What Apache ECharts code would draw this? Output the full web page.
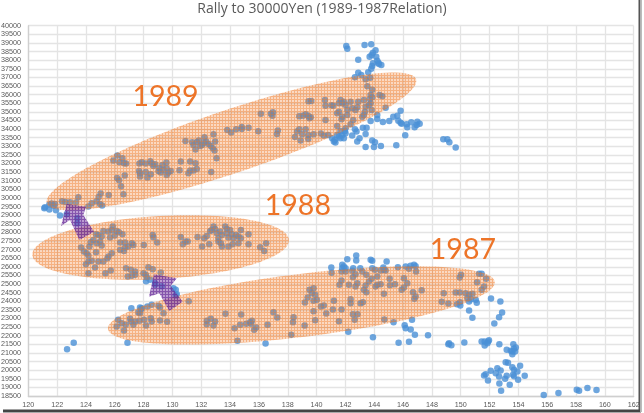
<!DOCTYPE html>
<html><head><meta charset="utf-8">
<style>html,body{margin:0;padding:0;background:#fff}#c{width:644px;height:413px;filter:blur(0.35px)}</style>
<script src="https://cdn.jsdelivr.net/npm/echarts@6/dist/echarts.min.js"></script>
</head><body><div id="c"></div>
<script>
const title = 'Rally to 30000Yen (1989-1987Relation)';
const pts1989Left = [[126.18,32457],[125.9,32167],[126.32,32071],[126.53,32300],[126.64,32012],[126.78,31993],[126.16,31162],[126.3,31026],[126.44,30678],[126.69,31297],[126.6,30214],[125.58,30175],[125.02,30253],[124.88,30059],[124.75,29808],[124.98,29653],[125.12,29556],[124.4,29692],[124.17,29500],[123.47,30040],[123.31,29730],[122.89,29750],[122.57,29770],[122.34,29808],[121.85,29653],[121.62,29672],[121.46,29615],[121.16,29460],[121.75,29550]];
const pts1989Mid = [[127.71,31993],[127.87,32071],[128.15,31993],[128.47,32129],[128.56,31993],[128.8,31955],[128.68,31858],[129.58,32051],[129.31,31916],[127.69,31568],[127.75,31433],[127.75,31240],[128.15,31510],[128.5,31374],[128.26,31181],[129.1,31723],[129.03,31568],[129.19,31471],[129.38,31626],[129.6,31723],[129.6,31336],[129.88,31568],[129.72,31471],[130.58,32109],[131.23,32109],[131.6,32012],[130.49,31607],[131.69,31684],[131.46,31587],[131.23,31587],[131.11,31433],[132.69,31510],[130.9,33309],[133.06,32300],[131.37,33231],[131.46,33077],[131.6,32806],[131.83,33328],[131.92,33018],[132.06,33077],[132.22,33521],[132.34,33270],[132.5,33134],[132.85,33695],[132.96,33270],[132.8,32883],[132.92,32748],[132.66,33018],[132.2,33200],[131.7,33250]];
const pts1989Right = [[133.8,33947],[134.07,33792],[134.42,33985],[134.81,34120],[134.81,34000],[135.28,34082],[135.95,33869],[136.13,34894],[136.83,34894],[136.97,34971],[136.94,34778],[137.31,33908],[137.25,33715],[138.5,33540],[138.64,33850],[138.8,33985],[139.0,33695],[138.89,33328],[139.24,33985],[139.42,33657],[139.42,33424],[139.79,33695],[140.3,33734],[138.8,34740],[139.06,34778],[139.24,34855],[139.44,34759],[139.6,34682],[139.44,35610],[139.63,35629],[139.5,34624]];
const pts1989Top = [[142.06,38820],[142.13,38666],[143.33,38878],[143.79,38917],[143.91,38433],[144.09,38569],[143.82,38298],[144.14,38201],[143.68,38201],[142.89,38027],[144.21,37969],[144.33,37776],[144.49,37718],[144.28,37850],[143.91,37815],[143.86,37660],[143.79,37505],[143.58,37292],[142.89,37273],[143.1,37138],[142.66,37002],[143.4,36886],[143.72,36983],[143.52,36480],[143.86,36287],[143.75,35977],[143.86,35842],[144.37,35977],[144.56,35900],[143.7,35750],[143.28,35687],[142.89,35590],[142.36,35590],[141.89,35590],[141.66,35687],[140.58,35687],[140.62,35358],[141.04,35377],[141.15,35358],[141.55,35494],[142.01,35397],[141.78,35494],[142.47,35204],[142.82,35262],[143.4,35300],[143.75,35494],[143.63,35397],[143.82,35107],[143.35,35010],[142.7,35107],[142.13,35107],[141.55,35010],[141.43,34914],[141.78,34720],[142.13,34817],[141.73,34566],[143.17,34720],[143.28,34817],[142.54,34527],[140.62,34527],[141.43,34179],[142.36,34276],[142.01,34043],[141.66,33889],[140.81,33657],[140.5,33618]];
const pts1989Lower = [[144.79,35242],[145.83,35068],[145.6,34778],[145.32,34720],[144.21,34817],[144.21,34585],[143.75,34469],[144.6,34411],[145.04,34469],[145.67,34488],[145.83,34372],[145.9,34300],[146.25,34276],[146.29,34101],[146.57,34392],[146.8,34101],[146.99,34430],[146.94,34230],[147.15,34314],[146.15,33637],[143.21,34082],[143.47,34082],[142.66,33985],[142.77,33850],[143.4,33715],[142.47,33618],[142.98,33463],[142.82,33270],[143.86,33328],[144.05,33231],[143.4,32960],[143.98,32960],[144.46,33018],[145.53,33057],[148.79,33405],[149.07,33405],[149.21,33231],[149.65,32922],[141.08,33463],[141.2,33270],[141.31,33212],[141.43,33657],[141.66,33463],[141.78,33657],[141.89,33463],[142.01,33753],[141.96,33889],[141.55,33560],[141.27,33366]];
const pts1988Left = [[121.11,29402],[121.46,29324],[121.92,29285],[122.2,28976],[122.66,29053],[123.4,28821],[123.4,28531],[125.86,28338],[126.13,28086],[126.29,28009],[126.53,27893],[125.21,28086],[125.56,28048],[125.79,28144],[124.7,27893],[124.86,27855],[125.09,27758],[125.67,27700],[126.0,27816],[124.33,27429],[124.51,27564],[124.75,27371],[124.98,27468],[125.09,27235],[124.24,27177],[123.66,27119],[123.86,26887],[124.05,26791],[124.17,26655],[124.7,26849],[125.56,26597],[125.79,26791],[125.49,26501],[124.0,26153],[124.17,26307],[124.4,26346],[124.86,26307],[125.21,26307],[124.63,25959],[124.17,25630],[125.35,25630],[125.72,25785],[126.37,27410],[126.71,27410],[127.18,27371],[127.29,27274],[126.94,27177],[126.71,27119],[126.37,26984],[126.64,26926],[128.01,27274],[128.63,27854],[128.68,27719],[128.94,27410]];
const pts1988Right = [[130.58,27738],[130.9,27468],[130.72,27313],[131.06,27468],[131.74,27738],[132.06,27177],[132.2,27661],[132.38,27796],[132.55,27313],[132.85,28338],[132.73,28144],[132.62,28086],[132.96,28203],[133.08,27951],[133.19,27661],[133.31,28048],[133.43,27855],[133.19,27468],[133.36,27371],[133.43,27177],[133.66,28338],[133.77,28203],[134,28144],[133.77,27951],[133.89,27700],[134.12,27893],[134.24,27661],[133.89,27177],[134.17,27313],[134.42,27855],[134.58,27758],[134.75,27661],[134.75,28144],[134.58,27371],[135.28,27893],[135.28,27313],[136.09,27139],[136.37,26926],[136.5,27371]];
const ptsMiddle = [[126.78,25921],[127.11,25824],[127.41,25727],[127.41,25534],[127.18,25475],[126.9,25437],[127.99,25630],[128.15,25534],[128.22,25379],[128.33,25978],[128.63,25862],[129.19,25669],[128.17,25166],[128.45,25245],[128.8,25050],[128.8,24953],[129.26,24876],[130.07,24760],[130.23,24663],[130.3,24412],[130.23,24334],[131.13,24006],[127.15,23600],[127.75,23638],[127.87,23600],[128.26,23696],[128.56,23793],[129.03,23735],[129.14,23638],[129.38,23310],[127.82,23542],[127.64,23348],[127.75,23300]];
const pts1987Left = [[126.23,22923],[126.13,22536],[126.48,22729],[126.76,22633],[126.64,22304],[127.06,22981],[127.13,22826],[127.29,22633],[127.41,22826],[127.71,22865],[128.03,22923],[128.17,22594],[128.5,23019],[128.56,22826],[129.14,22884],[129.63,22807],[132.38,22865],[132.38,22671],[132.66,22981],[132.85,22594],[132.96,22826],[133.68,23271],[134.31,22439],[134.7,22633],[134.77,23232],[135.12,22691],[135.39,22787],[135.51,22865],[135.46,22691],[135.81,22478],[135.67,22342],[136.6,22633],[137.01,23368],[137.27,23058],[138.4,23077],[138.36,22787],[138.24,22052],[139.17,22594],[139.19,23928],[139.38,24219],[139.51,24663],[139.79,24760],[139.67,24470],[139.9,24373],[139.79,24025],[140.02,24083],[139.79,23426],[139.9,22903],[140.3,23696]];
const ptsOutliers = [[122.69,21221],[123.15,21588],[126.88,21588],[134.51,21704],[136.46,21550]];
const pts1987Top = [[141.02,25959],[141.78,26114],[141.89,26017],[142.01,25920],[141.78,25920],[142.13,26443],[142.75,26655],[142.75,26365],[142.54,25920],[143.03,25920],[143.75,26404],[143.86,26346],[143.86,25920],[144.63,25959],[144.86,26307],[145.64,25978],[146.18,26017],[146.52,26056],[146.76,26114],[146.87,26030],[141.04,25650],[141.73,25727],[142.01,25727],[142.47,25766],[142.7,25572],[142.52,25398],[143.17,25727],[143.45,25534],[144.05,25824],[144.46,25785],[144.67,25824],[144.79,25785],[144.21,25437],[143.82,25302],[145.07,25302],[146.06,25340],[146.41,25882],[146.9,25727]];
const pts1987Mid = [[141.73,25205],[141.59,24953],[142.24,24953],[142.7,24857],[142.82,25050],[143.63,25147],[143.4,24915],[144.09,24857],[144.44,24992],[144.21,24953],[143.28,24663],[143.45,24528],[144.67,24431],[145.44,24992],[145.09,24934],[146.29,25050],[146.06,24799],[145.9,24663],[146.69,24528],[146.87,24277],[146.78,24141],[147.29,24644],[141.2,24025],[140.5,23754],[141.13,23522],[141.73,23522],[140.67,23290],[141.55,22845],[142.36,24122],[142.36,23890],[143.05,23890],[143.21,23948],[142.52,23251],[142.84,23251],[142.64,22923],[144.7,22942]];
const pts1987Right = [[148.82,24470],[148.68,23967],[149.14,23870],[149.65,24509],[149.93,24509],[150.34,24470],[150.58,24373],[150.81,24431],[150.46,24180],[149.95,23948],[150.02,25534],[149.93,25379],[151.27,25592],[151.45,25592],[151.76,25302],[151.13,25108],[151.62,24857],[151.45,24663],[149.74,23832],[149.97,23754],[150.58,23986],[150.7,24120],[151.04,24083],[151.11,23909],[152.1,24161],[152.75,23986],[150.58,23464],[150.81,23039],[152.87,23348],[152.66,23077],[152.33,22710]];
const ptsBelow = [[145.34,22787],[146.62,22923],[146.11,22613],[146.18,22439],[146.53,22362],[146.82,22052],[147.73,22033],[142.2,22226],[143.91,21917],[145.69,21588],[146.41,21646],[149.19,21569],[149.35,21453],[149.14,21510],[150.25,21608],[151.45,21665],[151.66,21665],[151.9,21665],[151.96,21743],[151.66,21434],[151.85,21569],[152.68,21511],[153.65,21511],[153.82,21317],[153.19,21182],[153.47,21124],[153.58,20931],[153.77,21085],[153.7,21240],[153.58,21085]];
const ptsBottom = [[153.12,20466],[153.28,20428],[154.12,20254],[153.58,20176],[153.7,20022],[153.93,19925],[152.08,19964],[152.54,20118],[152.77,19983],[152.43,19828],[151.73,19770],[151.62,19693],[152.66,19635],[153.19,19673],[153.08,19499],[153.63,19731],[154.44,19673],[153.98,19441],[153.7,19640],[151.89,19403],[152.68,19229],[153.4,19151],[152.8,18803],[155.76,18552],[156.78,18668],[158.05,18862],[158.21,18803],[158.79,18958],[159.42,18842]];
const allPoints = [].concat(pts1989Left,pts1989Mid,pts1989Right,pts1989Top,pts1989Lower,pts1988Left,pts1988Right,ptsMiddle,pts1987Left,ptsOutliers,pts1987Top,pts1987Mid,pts1987Right,ptsBelow,ptsBottom);

const ellipseTips = [
  [[121.28,29680],[146.9,36890]],
  [[120.28,26690],[138.08,27560]],
  [[125.53,22390],[152.36,25130]]
];
const arrowOutlines = [
  [[122.66,29646],[124.0,29489],[123.82,29008],[124.56,28038],[123.54,27556],[122.89,28717],[122.27,28369]],
  [[128.72,25564],[130.3,25332],[129.88,24902],[130.71,23973],[129.78,23433],[129.09,24460],[128.37,24263]]
];
const yearNames = ['1989','1988','1987'];
const yearAnchors = [[129.52,35860],[138.7,29530],[150.15,26975]];

function hatch(fill, line, size){
  const c = document.createElement('canvas'); c.width = size; c.height = size;
  const g = c.getContext('2d');
  g.fillStyle = fill; g.fillRect(0,0,size,size);
  g.fillStyle = line; g.fillRect(0,0,size,1); g.fillRect(0,1,1,size-1);
  return {image:c, repeat:'repeat'};
}
const ellipseFill = hatch('rgba(240,115,30,0.27)','rgba(240,115,30,0.39)',3);
const arrowFill = hatch('rgba(112,48,160,0.48)','rgba(100,40,150,0.6)',3);

const chart = echarts.init(document.getElementById('c'),null,{renderer:'canvas'});
const gridLine = {show:true,lineStyle:{color:'#e4e4e4',width:1.3}};
const axisText = {color:'#595959',fontSize:7.2,fontFamily:'Liberation Sans',formatter:v=>String(v)};
chart.setOption({
  animation:false,
  backgroundColor:'#fff',
  title:{text:title,left:'center',top:-3,textStyle:{fontFamily:'Open Sans',fontWeight:'normal',fontSize:14,color:'#595959'}},
  grid:{left:28.3,right:10.3,top:25.7,bottom:17,outerBoundsMode:'none',containLabel:false},
  xAxis:{type:'value',min:120,max:162,interval:2,splitLine:gridLine,
    axisLine:{show:true,onZero:false,lineStyle:{color:'#cfcfcf',width:1.3}},axisTick:{show:false},
    axisLabel:Object.assign({margin:6,hideOverlap:false,showMinLabel:true,showMaxLabel:true},axisText)},
  yAxis:{type:'value',min:18500,max:40000,interval:500,splitLine:gridLine,
    axisLine:{show:true,onZero:false,lineStyle:{color:'#cfcfcf',width:1.3}},axisTick:{show:false},
    axisLabel:Object.assign({margin:7.4,hideOverlap:false,showMinLabel:true,showMaxLabel:true},axisText)},
  series:[
    {type:'scatter',data:allPoints,symbolSize:6.5,z:2,itemStyle:{color:'#4a90d6'}},
    {type:'custom',z:3,clip:false,silent:true,coordinateSystem:'cartesian2d',
     data:ellipseTips.map(t=>t[0]),
     renderItem:(p,api)=>{
       const t = ellipseTips[p.dataIndex];
       const a = api.coord(t[0]), b = api.coord(t[1]);
       const cx=(a[0]+b[0])/2, cy=(a[1]+b[1])/2, rx=Math.hypot(b[0]-a[0],b[1]-a[1])/2, ang=Math.atan2(b[1]-a[1],b[0]-a[0]), ry=31.5;
       const pts=[];
       for(let i=0;i<120;i++){const q=i/120*2*Math.PI,u=rx*Math.cos(q),v=ry*Math.sin(q);
         pts.push([cx+u*Math.cos(ang)-v*Math.sin(ang),cy+u*Math.sin(ang)+v*Math.cos(ang)]);}
       return {type:'polygon',shape:{points:pts},style:{fill:ellipseFill,stroke:null}};
     }},
    {type:'custom',z:4,clip:false,silent:true,coordinateSystem:'cartesian2d',
     data:arrowOutlines.map(t=>t[0]),
     renderItem:(p,api)=>({type:'polygon',shape:{points:arrowOutlines[p.dataIndex].map(v=>api.coord(v))},style:{fill:arrowFill,stroke:null}})},
    {type:'custom',z:5,clip:false,silent:true,coordinateSystem:'cartesian2d',
     data:yearAnchors,
     renderItem:(p,api)=>{const c=api.coord(yearAnchors[p.dataIndex]);
       return {type:'text',x:c[0],y:c[1],style:{text:yearNames[p.dataIndex],fill:'#ed7428',fontSize:28.5,fontFamily:'Lato',align:'center',verticalAlign:'middle'}};}}
  ],
  graphic:[
    {type:'rect',shape:{x:638.5,y:0,width:2,height:412},style:{fill:'#555'},z:10},
    {type:'rect',shape:{x:640.5,y:0,width:1.5,height:412},style:{fill:'#bbb'},z:10},
    {type:'rect',shape:{x:3,y:409.5,width:637,height:2.5},style:{fill:'#444'},z:10},
    {type:'rect',shape:{x:3,y:412,width:638,height:1},style:{fill:'#aaa'},z:10}
  ]
});
</script></body></html>
